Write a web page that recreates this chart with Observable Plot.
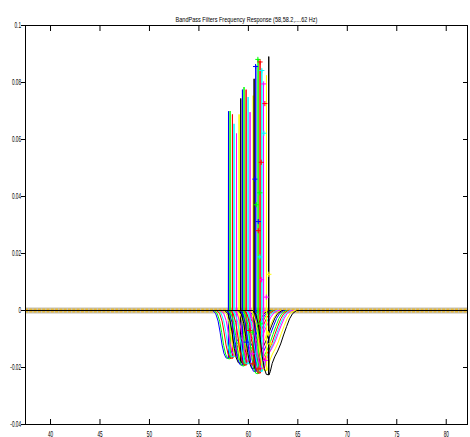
<!DOCTYPE html>
<html><head><meta charset="utf-8">
<script src="https://cdn.jsdelivr.net/npm/d3@7"></script>
<script src="https://cdn.jsdelivr.net/npm/@observablehq/plot@0.6"></script>
<style>body{margin:0;background:#fff}</style>
</head><body><div id="chart"></div>
<script>
// ---- data ----
const title = "BandPass Filters Frequency Response (58,58.2,....62 Hz)";
const xTicks = [40, 45, 50, 55, 60, 65, 70, 75, 80];
const xTickLabels = ["40", "45", "50", "55", "60", "65", "70", "75", "80"];
const yTicks = [-0.04, -0.02, 0, 0.02, 0.04, 0.06, 0.08, 0.1];
const yTickLabels = ["-0.04", "-0.02", "0", "0.02", "0.04", "0.06", "0.08", "0.1"];
const xDomain = [37.47, 82.15];
const yDomain = [-0.04, 0.1];
const colorCycle = ["#0000ff", "#00ff00", "#ff0000", "#00ffff", "#ff00ff", "#ffff00", "#000000"];

// spike frequency, spike height and dip depth of the 21 filters
const centers = [57.99, 58.15, 58.39, 58.55, 58.80, 59.06, 59.23, 59.40, 59.56, 59.77, 59.97, 60.17, 60.48, 60.58, 60.75, 60.98, 61.18, 61.36, 61.53, 61.83, 62.06];
const peaks = [0.0699, 0.0700, 0.0688, 0.0655, 0.0621, 0.0688, 0.0744, 0.0775, 0.0784, 0.0775, 0.0749, 0.0696, 0.0754, 0.0813, 0.0860, 0.0883, 0.0875, 0.0845, 0.0795, 0.0825, 0.0891];
const dips = [-0.0168, -0.0170, -0.0168, -0.0163, -0.0160, -0.0172, -0.0185, -0.0192, -0.0195, -0.0192, -0.0188, -0.0180, -0.0190, -0.0205, -0.0215, -0.0222, -0.0220, -0.0214, -0.0205, -0.0212, -0.0226];
// common response shape: offset (Hz) from the spike and fraction of the dip (null = spike top)
const shapeOffsets = [-1.6, -1.3, -1.05, -0.85, -0.65, -0.45, -0.25, -0.02, 0, 0.02, 0.15, 0.35, 0.6, 0.9, 1.2, 1.5, 1.8, 2.1, 2.4, 2.8];
const shapeDepth = [0, 0.06, 0.22, 0.45, 0.72, 0.9, 0.99, 1, null, 1, 0.95, 0.82, 0.72, 0.63, 0.52, 0.38, 0.25, 0.13, 0.05, 0];

// '+' markers visible on the curves
const markerFreq = [60.73, 60.96, 61.18, 61.36, 61.54, 61.67, 61.30, 60.66, 61.16, 60.80, 61.00, 61.00, 61.16, 61.33, 62.07, 61.81, 61.57, 60.12, 60.39, 59.80, 60.39, 60.45, 61.22, 62.21, 61.72, 62.05, 61.0];
const markerValue = [0.0856, 0.0881, 0.0872, 0.0842, 0.0795, 0.0726, 0.0520, 0.0461, 0.0413, 0.0371, 0.0312, 0.0280, 0.0188, 0.0108, 0.0127, 0.0047, 0.0622, -0.0070, -0.0076, -0.0111, -0.0152, -0.0187, -0.0047, -0.0117, -0.0175, -0.0082, -0.0205];
const markerColor = [0, 1, 2, 3, 4, 2, 2, 0, 1, 1, 0, 2, 3, 4, 5, 4, 3, 2, 1, 0, 4, 2, 1, 5, 4, 5, 2];

// ---- build tables ----
const curves = centers.map((c, i) => {
  const rows = [{f: xDomain[0], v: 0}];
  shapeOffsets.forEach((o, k) => rows.push({f: c + o, v: shapeDepth[k] === null ? peaks[i] : shapeDepth[k] * dips[i]}));
  rows.push({f: xDomain[1], v: 0});
  return rows;
});
const markers = markerFreq.map((f, i) => ({f, v: markerValue[i], c: colorCycle[markerColor[i]]}));

const plot = Plot.plot({
  width: 470, height: 437,
  marginLeft: 25, marginRight: 3, marginTop: 25, marginBottom: 13,
  x: {domain: xDomain},
  y: {domain: yDomain},
  color: {type: "identity"},
  style: {fontFamily: "'Liberation Sans', Arial, sans-serif", fontSize: "8.5px", background: "#fff", color: "#000"},
  marks: [
    Plot.ruleY([0], {stroke: "#c4c0b4", strokeWidth: 6}),
    Plot.ruleY([0], {stroke: "#e6b834", strokeWidth: 4, strokeDasharray: "3,1.3"}),
    ...curves.map((rows, i) => Plot.line(rows, {x: "f", y: "v", stroke: colorCycle[i % 7], strokeWidth: 1})),
    Plot.dot(markers, {x: "f", y: "v", stroke: "c", symbol: "plus", r: 1.8, strokeWidth: 1}),
    Plot.frame({stroke: "#000", strokeWidth: 1}),
    Plot.axisX(xTicks, {anchor: "bottom", tickSize: -5, tickPadding: 11, tickFormat: d => xTickLabels[xTicks.indexOf(d)], label: null}),
    Plot.axisX(xTicks, {anchor: "top", tickSize: -5, tickFormat: () => "", label: null}),
    Plot.axisY(yTicks, {anchor: "left", tickSize: 4, tickPadding: 0.5, tickFormat: d => yTickLabels[yTicks.indexOf(d)], label: null}),
    Plot.axisY(yTicks, {anchor: "right", tickSize: -5, tickFormat: () => "", label: null}),
    Plot.text([title], {frameAnchor: "top", dy: -9.5, fontSize: 8, text: d => d})
  ]
});
document.getElementById("chart").append(plot);
plot.querySelectorAll("text").forEach(t => {
  const w = t.getComputedTextLength();
  if (!w) return;
  const s = t.textContent === title ? 142 / w : 0.55;
  const tr = t.getAttribute("transform") || "";
  t.setAttribute("transform", tr + ` scale(${s},1)`);
});
</script>
</body></html>
